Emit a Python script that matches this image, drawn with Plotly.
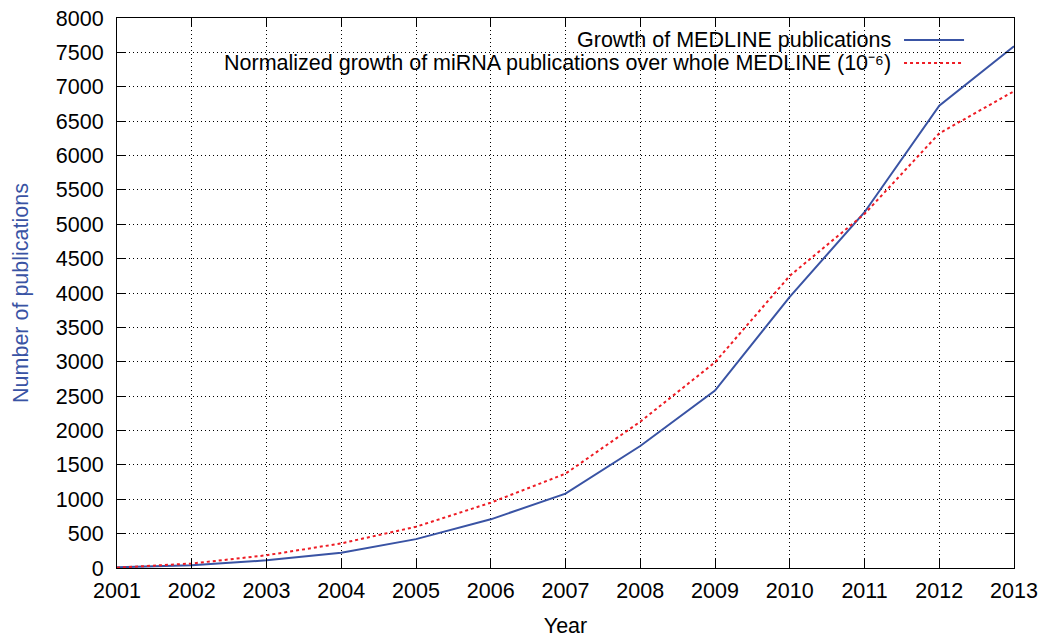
import plotly.graph_objects as go

# Publication counts per year
years = [2001, 2002, 2003, 2004, 2005, 2006, 2007, 2008, 2009, 2010, 2011, 2012, 2013]
medline_growth = [10, 40, 112, 222, 420, 708, 1082, 1775, 2580, 3945, 5175, 6725, 7590]
mirna_normalized = [5, 65, 185, 358, 600, 950, 1372, 2128, 2992, 4250, 5150, 6322, 6935]

series_names = [
    "Growth of MEDLINE publications",
    "Normalized growth of miRNA publications over whole MEDLINE (10\u207b\u2076)",
]
blue = "#3953a4"
red = "#ee1c24"
font_family = "Liberation Sans, Arial, sans-serif"
fsize = 21.5

fig = go.Figure()
fig.add_trace(go.Scatter(x=years, y=medline_growth, mode="lines",
                         line=dict(color=blue, width=2), name=series_names[0],
                         showlegend=False))
fig.add_trace(go.Scatter(x=years, y=mirna_normalized, mode="lines",
                         line=dict(color=red, width=2, dash="3px,3px"), name=series_names[1],
                         showlegend=False))

# white key box hiding the grid behind the key entries
fig.add_shape(type="rect", xref="paper", yref="paper", x0=0.117, x1=0.9565, y0=0.896, y1=1.0,
              fillcolor="white", line=dict(width=0), layer="between")

# key entries: right-aligned text followed by a line sample
key_rows = [(0.96, blue, "solid"), (0.918, red, "3px,3px")]
for name, (ky, col, dsh) in zip(series_names, key_rows):
    fig.add_annotation(x=0.8651, y=ky, xref="paper", yref="paper", text=name,
                       showarrow=False, xanchor="right", yanchor="middle",
                       font=dict(size=fsize, color="black", family=font_family))
    fig.add_shape(type="line", xref="paper", yref="paper", x0=0.8774, x1=0.9443, y0=ky, y1=ky,
                  line=dict(color=col, width=2, dash=dsh), layer="above")

axis_common = dict(
    showline=True, linecolor="black", linewidth=1, mirror="allticks",
    ticks="inside", ticklen=9, tickcolor="black", tickwidth=1,
    showgrid=True, gridcolor="black", gridwidth=1, griddash="1px,3px",
    zeroline=False, tickfont=dict(size=fsize, color="black", family=font_family),
    automargin=False,
)

fig.update_xaxes(range=[2001, 2013], tickmode="linear", tick0=2001, dtick=1,
                 ticklabelstandoff=3,
                 title=dict(text="Year", font=dict(size=fsize, color="black", family=font_family),
                            standoff=19),
                 **axis_common)
fig.update_yaxes(range=[0, 8000], tickmode="linear", tick0=0, dtick=500,
                 ticklabelstandoff=8,
                 title=dict(text="Number of publications",
                            font=dict(size=fsize, color=blue, family=font_family), standoff=21),
                 **axis_common)

fig.update_layout(
    width=1043, height=638,
    margin=dict(l=117, r=29, t=18, b=70),
    plot_bgcolor="white", paper_bgcolor="white",
    font=dict(family=font_family, size=fsize, color="black"),
)

fig.write_html("out.html")
